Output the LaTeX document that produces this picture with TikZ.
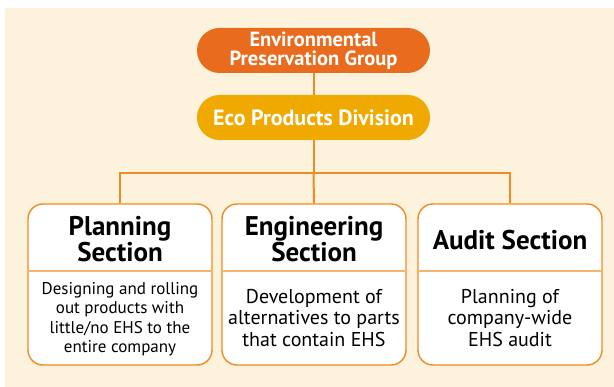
\documentclass[tikz,border=0pt]{standalone}
\usepackage{fontspec}
\setmainfont{PT Sans}
\usepackage{tikz}
\definecolor{paper}{HTML}{FDF2DC}
\definecolor{groupor}{HTML}{E96B1D}
\definecolor{divyel}{HTML}{F0A900}
\definecolor{wire}{HTML}{F08A25}
\definecolor{rule}{HTML}{F5B570}
\tikzset{
	pill/.style={fill=#1, text=white, font=\bfseries\fontsize{20.5}{19}\selectfont, align=center,
		minimum width=233pt, minimum height=45pt, rounded corners=22.5pt, inner sep=0pt},
	secbox/.style={draw=wire, line width=1.4pt, fill=white, rounded corners=15pt,
		minimum width=184pt, minimum height=161pt, inner sep=0pt},
	sectitle/.style={font=\bfseries\fontsize{27}{23}\selectfont, align=center, inner sep=0pt},
	secbody/.style={font=\fontsize{20}{21.5}\selectfont, align=center, inner sep=0pt}
}

\begin{document}
\begin{tikzpicture}[x=1pt, y=-1pt]
    \useasboundingbox (0, 0) rectangle (614, 387);
    \fill[paper] (5, 8) rectangle (614, 387);
    \node[pill=groupor](epg) at (313.5, 50.5){Environmental\\Preservation Group};
    \node[pill=divyel, font=\bfseries\fontsize{22}{22}\selectfont](epd) at (313.5, 117.5){Eco Products Division};
    \draw[wire, line width=2pt](epg)--(epd);
    % sections
    \node[secbox](plan) at (120, 284.5){};
    \node[secbox](eng) at (314, 284.5){};
    \node[secbox](aud) at (510, 284.5){};
    \foreach \s in {plan, eng, aud}
        \draw[rule, line width=1.2pt](\s.west |- 0, 271)--(\s.east |- 0, 271);
    \draw[wire, line width=2pt](epd.south)--(313.5, 173)coordinate(bus);
    \draw[wire, line width=2pt](plan.north)|-(bus)-|(aud.north);
    \draw[wire, line width=2pt](bus)--(eng.north);
    \node[sectitle](plant) at (120, 239){Planning\\Section};
    \node[sectitle](engt) at (314, 239){Engineering\\Section};
    \node[sectitle](audt) at (510, 240){Audit Section};
    \node[secbody, font=\fontsize{17}{19.5}\selectfont](planb) at (120, 319){Designing and rolling\\out products with\\little/no EHS to the\\entire company};
    \node[secbody](engb) at (314, 318){Development of\\alternatives to parts\\that contain EHS};
    \node[secbody](audb) at (510, 318){Planning of\\company-wide\\EHS audit};
\end{tikzpicture}
\end{document}
